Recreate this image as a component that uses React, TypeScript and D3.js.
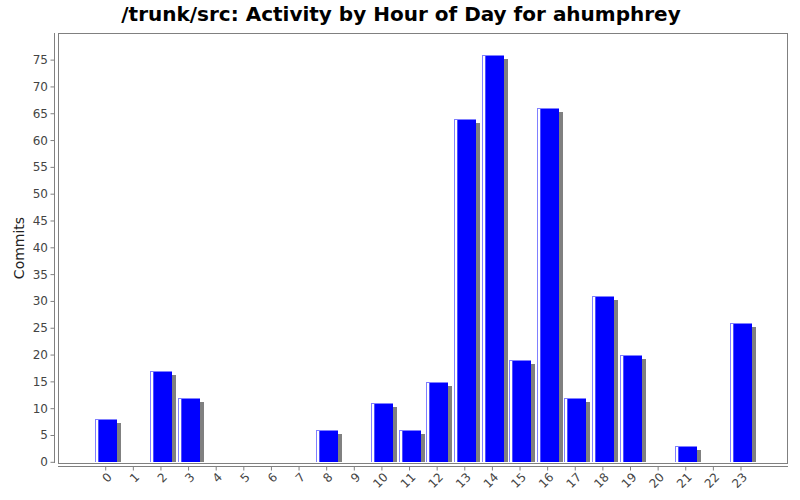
import React from "react";
import * as d3 from "d3";

const hours: string[] = Array.from({ length: 24 }, (_, i) => String(i));
const commits: number[] = [8, 0, 17, 12, 0, 0, 0, 0, 6, 0, 11, 6, 15, 64, 76, 19, 66, 12, 31, 20, 0, 3, 0, 26];
const yTicks: number[] = [0, 5, 10, 15, 20, 25, 30, 35, 40, 45, 50, 55, 60, 65, 70, 75];
const title = "/trunk/src: Activity by Hour of Day for ahumphrey";
const yLabel = "Commits";

const W = 800;
const H = 500;
const plot = { left: 58, top: 33, right: 788, bottom: 463 };
const zeroY = 462.3;
const font = "DejaVu Sans, sans-serif";

export default function App() {
  const x = d3
    .scaleBand<string>()
    .domain(hours)
    .range([91.9, 754.8])
    .paddingInner(0.215)
    .paddingOuter(0.1075);
  const y = d3.scaleLinear().domain([0, 80]).range([zeroY, 33.3]);
  const bw = Math.round(x.bandwidth());
  const center = (h: string) => (x(h) as number) + x.bandwidth() / 2;

  return (
    <svg width={W} height={H} style={{ position: "absolute", left: 0, top: 0, background: "#fff" }}>
      <rect x={0} y={0} width={W} height={H} fill="#fff" />
      <text x={401} y={21} textAnchor="middle" fontFamily={font} fontWeight="bold" fontSize={20} fill="#000">
        {title}
      </text>
      {/* plot border */}
      <rect
        x={plot.left + 0.5}
        y={plot.top + 0.5}
        width={plot.right - plot.left - 1}
        height={plot.bottom - plot.top}
        fill="#fff"
        stroke="#808080"
        strokeWidth={1}
      />
      {/* shadows */}
      {commits.map((v, i) => {
        if (v <= 0) return null;
        const x0 = Math.round(x(hours[i]) as number) + 4;
        const top = Math.round(y(v)) + 4;
        const h = Math.max(0, Math.round(zeroY) - top);
        return <rect key={"s" + i} x={x0} y={top} width={bw} height={h} fill="#808080" />;
      })}
      {/* bars */}
      {commits.map((v, i) => {
        if (v <= 0) return null;
        const x0 = Math.round(x(hours[i]) as number);
        const top = Math.round(y(v));
        const h = Math.round(zeroY) - top;
        return (
          <g key={"b" + i} shapeRendering="crispEdges">
            <rect x={x0} y={top} width={bw} height={h} fill="#0000ff" />
            <rect x={x0} y={top} width={bw} height={1} fill="#8080ff" />
            <rect x={x0} y={top} width={1} height={h} fill="#8080ff" />
            <rect x={x0 + 1} y={top + 1} width={2} height={h - 1} fill="#ffffff" />
            <rect x={x0 + 3} y={top + 1} width={1} height={h - 1} fill="#5050ff" />
          </g>
        );
      })}
      {/* y axis */}
      <line x1={54.5} x2={54.5} y1={plot.top} y2={plot.bottom} stroke="#808080" strokeWidth={1} />
      {yTicks.map((t) => (
        <g key={"yt" + t}>
          <line x1={50.5} x2={54.5} y1={y(t)} y2={y(t)} stroke="#808080" strokeWidth={1} />
          <text
            x={48}
            y={y(t)}
            textAnchor="end"
            dominantBaseline="central"
            fontFamily={font}
            fontSize={12}
            fill="#444"
          >
            {t}
          </text>
        </g>
      ))}
      <text
        transform={`translate(24, 248) rotate(-90)`}
        textAnchor="middle"
        fontFamily={font}
        fontSize={14}
        fill="#222"
      >
        {yLabel}
      </text>
      {/* x axis */}
      <line x1={plot.left} x2={plot.right} y1={466.5} y2={466.5} stroke="#808080" strokeWidth={1} />
      {hours.map((h) => (
        <g key={"xt" + h}>
          <line x1={center(h)} x2={center(h)} y1={466.5} y2={470.5} stroke="#808080" strokeWidth={1} />
          <text
            transform={`translate(${center(h) + 4}, ${475}) rotate(-45)`}
            textAnchor="end"
            dominantBaseline="central"
            fontFamily={font}
            fontSize={12}
            fill="#444"
          >
            {h}
          </text>
        </g>
      ))}
    </svg>
  );
}
